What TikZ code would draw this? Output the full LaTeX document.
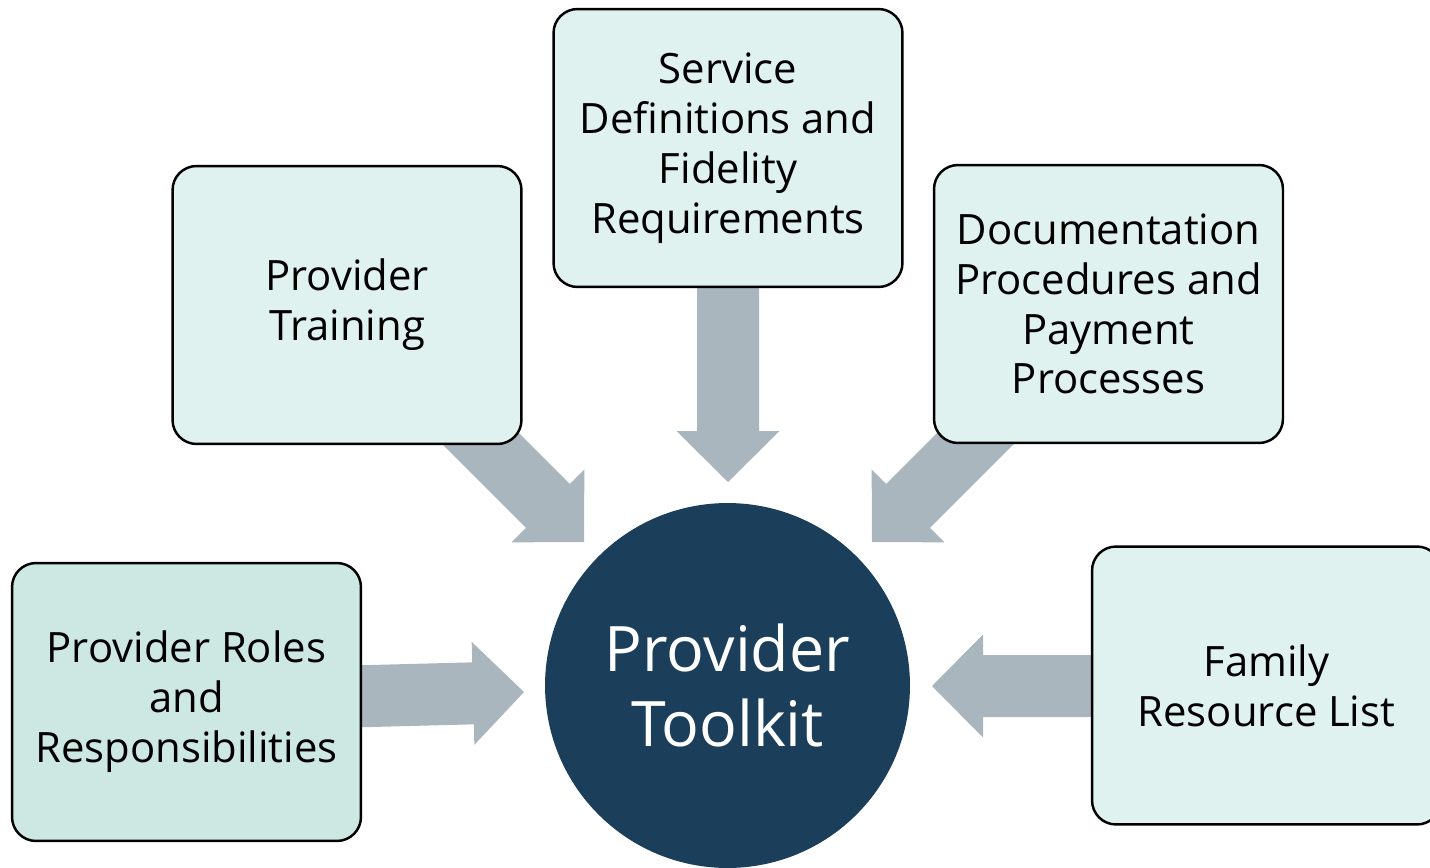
\documentclass[tikz,border=0pt]{standalone}
\usepackage{fontspec}
\setmainfont{Open Sans}
\usepackage{tikz}
\usetikzlibrary{positioning}
\definecolor{boxfill}{HTML}{E0F2F0}
\definecolor{rolefill}{HTML}{CDE8E2}
\definecolor{arrowgray}{HTML}{A9B6BE}
\definecolor{toolnavy}{HTML}{1B3F5A}

% block arrow: tip x, tip y, angle, length
\newcommand{\blockarrow}[4]{%
\fill[arrowgray,shift={(#1,#2)},rotate=#3] (-#4,-31) -- (-51,-31) -- (-51,-51.5) -- (0,0) -- (-51,51.5) -- (-51,31) -- (-#4,31) -- cycle;}

\tikzset{
  topicbox/.style={draw=black,line width=1.4pt,rounded corners=0.48cm,fill=boxfill,
    minimum width=6.98cm,minimum height=5.56cm,align=center,inner sep=0pt,
    font=\fontsize{23.8}{28.4}\selectfont},
  hub/.style={circle,fill=toolnavy,minimum size=7.3cm,inner sep=0pt,align=center,
    text=white,font=\fontsize{35.7}{42.5}\selectfont}
}

\begin{document}
\begin{tikzpicture}[line join=round,x=0.02cm,y=-0.02cm]
\useasboundingbox (0,0) rectangle (1430,868);
% arrows first, the boxes hide their tails
\blockarrow{728}{482}{-90}{200}
\blockarrow{584}{542}{-45}{200}
\blockarrow{872}{542}{-135}{200}
\blockarrow{524}{692}{1.5}{175}
\blockarrow{932}{686}{180}{175}
% centre
\node[hub] (toolkit) at (727.5,685.5) {Provider\\Toolkit};
% topics
\node[topicbox] (service) at (728,148) {Service\\Definitions and\\Fidelity\\Requirements};
\node[topicbox] (training) at (347,305) {Provider\\Training};
\node[topicbox] (docs) at (1108.5,304) {Documentation\\Procedures and\\Payment\\Processes};
\node[topicbox,fill=rolefill] (roles) at (186.5,702) {Provider Roles\\and\\Responsibilities};
\node[topicbox] (family) at (1266.5,685.5) {Family\\Resource List};
\end{tikzpicture}
\end{document}
